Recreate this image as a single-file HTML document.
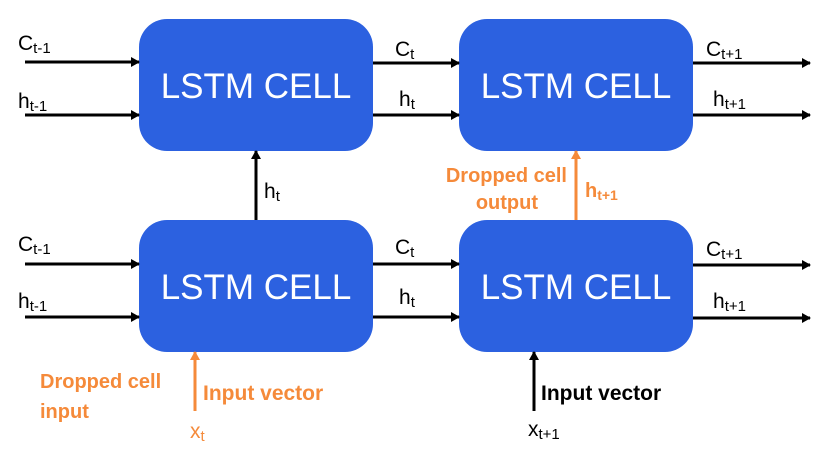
<!DOCTYPE html>
<html><head><style>body{margin:0;background:#fff}</style></head><body>
<svg width="820" height="459" xmlns="http://www.w3.org/2000/svg" font-family="Liberation Sans, sans-serif">
<defs>
<marker id="a" markerWidth="10" markerHeight="10" refX="8" refY="5" orient="auto" markerUnits="userSpaceOnUse"><path d="M0,0 L9,5 L0,10 z" fill="#000"/></marker>
<marker id="o" markerWidth="10" markerHeight="10" refX="8" refY="5" orient="auto" markerUnits="userSpaceOnUse"><path d="M0,0 L9,5 L0,10 z" fill="#f58a3a"/></marker>
</defs>
<g fill="#2c61e0">
<rect x="139" y="19" width="234" height="132" rx="28"/>
<rect x="459" y="19" width="234" height="132" rx="28"/>
<rect x="139" y="220" width="234" height="132" rx="28"/>
<rect x="459" y="220" width="234" height="132" rx="28"/>
</g>
<g fill="#fff" font-size="35" text-anchor="middle">
<text x="256" y="98">LSTM CELL</text><text x="576" y="98">LSTM CELL</text>
<text x="256" y="299">LSTM CELL</text><text x="576" y="299">LSTM CELL</text>
</g>
<g stroke="#000" stroke-width="3" marker-end="url(#a)">
<line x1="25" y1="62" x2="139" y2="62"/><line x1="25" y1="115" x2="139" y2="115"/>
<line x1="373" y1="63" x2="459" y2="63"/><line x1="373" y1="115" x2="459" y2="115"/>
<line x1="693" y1="63" x2="810" y2="63"/><line x1="693" y1="115" x2="810" y2="115"/>
<line x1="25" y1="264" x2="139" y2="264"/><line x1="25" y1="317" x2="139" y2="317"/>
<line x1="373" y1="264" x2="459" y2="264"/><line x1="373" y1="317" x2="459" y2="317"/>
<line x1="693" y1="265" x2="810" y2="265"/><line x1="693" y1="318" x2="810" y2="318"/>
<line x1="256" y1="220" x2="256" y2="151"/>
<line x1="534" y1="411" x2="534" y2="352"/>
</g>
<g stroke="#f58a3a" stroke-width="3" marker-end="url(#o)">
<line x1="576" y1="220" x2="576" y2="151"/>
<line x1="195" y1="411" x2="195" y2="352"/>
</g>
<g font-size="21" fill="#000">
<text x="18" y="50">C<tspan font-size="15" dy="3">t-1</tspan></text>
<text x="18" y="108">h<tspan font-size="15" dy="3">t-1</tspan></text>
<text x="18" y="251">C<tspan font-size="15" dy="3">t-1</tspan></text>
<text x="18" y="308">h<tspan font-size="15" dy="3">t-1</tspan></text>
<text x="395" y="56">C<tspan font-size="15" dy="3">t</tspan></text>
<text x="399" y="106">h<tspan font-size="15" dy="3">t</tspan></text>
<text x="395" y="254">C<tspan font-size="15" dy="3">t</tspan></text>
<text x="399" y="304">h<tspan font-size="15" dy="3">t</tspan></text>
<text x="706" y="56">C<tspan font-size="15" dy="3">t+1</tspan></text>
<text x="713" y="106">h<tspan font-size="15" dy="3">t+1</tspan></text>
<text x="706" y="256">C<tspan font-size="15" dy="3">t+1</tspan></text>
<text x="713" y="308">h<tspan font-size="15" dy="3">t+1</tspan></text>
<text x="264" y="198">h<tspan font-size="15" dy="3">t</tspan></text>
<text x="528" y="436">x<tspan font-size="15" dy="3">t+1</tspan></text>
</g>
<text x="190" y="438" font-size="21" fill="#f58a3a">x<tspan font-size="15" dy="3">t</tspan></text>
<g font-size="20" font-weight="bold" fill="#f58a3a">
<text x="585" y="197">h<tspan font-size="14" dy="3">t+1</tspan></text>
<text x="567" y="182" text-anchor="end">Dropped cell</text>
<text x="538" y="209" text-anchor="end">output</text>
<text x="40" y="388">Dropped cell</text>
<text x="40" y="418">input</text>
<text x="203" y="400" font-size="21">Input vector</text>
</g>
<text x="541" y="400" font-size="21" font-weight="bold" fill="#000">Input vector</text>
</svg>
</body></html>
